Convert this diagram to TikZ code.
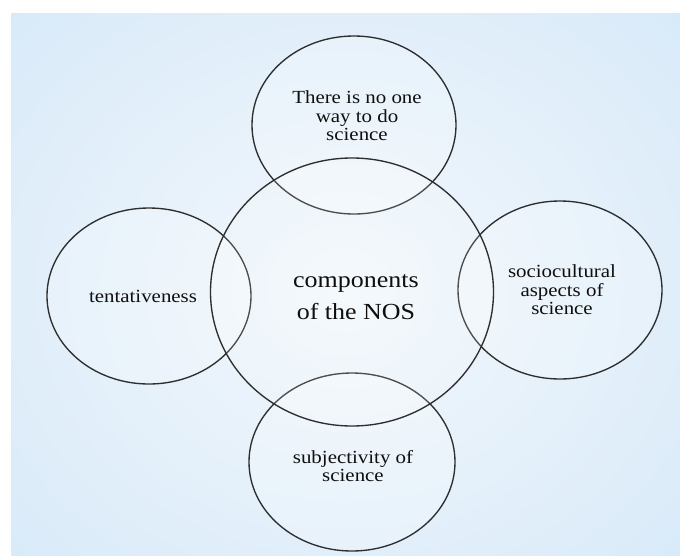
\documentclass[tikz,border=0pt]{standalone}
\usepackage{fontspec}
\setmainfont[FakeStretch=1.13]{Liberation Serif}
\usetikzlibrary{shapes.geometric}
\definecolor{bginner}{HTML}{F3F8FC}
\definecolor{bgouter}{HTML}{C0DDF5}
\definecolor{ringcol}{HTML}{2E2E2E}
\definecolor{txtcol}{HTML}{0F0F0F}
\tikzset{
  ring/.style={ellipse, draw=ringcol, line width=1.35pt, fill=white, fill opacity=0.22,
    inner sep=0pt, minimum width=#1},
  smalllabel/.style={align=center, text=txtcol, font=\fontsize{18.5}{18.5}\selectfont, inner sep=0pt},
  biglabel/.style={align=center, text=txtcol, font=\fontsize{23}{32}\selectfont, inner sep=0pt}
}
\begin{document}
\begin{tikzpicture}[x=1pt,y=-1pt]
\useasboundingbox (0,0) rectangle (680,555);
\fill[white] (0,0) rectangle (680,555);
\begin{scope}
\clip (11,13) rectangle (680,555);
\shade[inner color=bginner, outer color=bgouter] (345,290) ellipse [x radius=880, y radius=760];
\end{scope}
% rings
\node[ring=204pt, minimum height=178pt] (top) at (354,125) {};
\node[ring=204pt, minimum height=176pt] (left) at (149,296) {};
\node[ring=204pt, minimum height=178pt] (right) at (560,290) {};
\node[ring=206pt, minimum height=178pt] (bottom) at (352,462) {};
\node[ring=283pt, minimum height=268pt, fill opacity=0.15] (center) at (352,292) {};
% labels
\node[smalllabel] (toplbl) at (357,116) {There is no one\\way to do\\science};
\node[biglabel] (centerlbl) at (356,297) {components\\of the NOS};
\node[smalllabel] (leftlbl) at (143,296) {tentativeness};
\node[smalllabel] (rightlbl) at (562,290) {sociocultural\\aspects of\\science};
\node[smalllabel] (bottomlbl) at (353,466) {subjectivity of\\science};
\end{tikzpicture}
\end{document}
